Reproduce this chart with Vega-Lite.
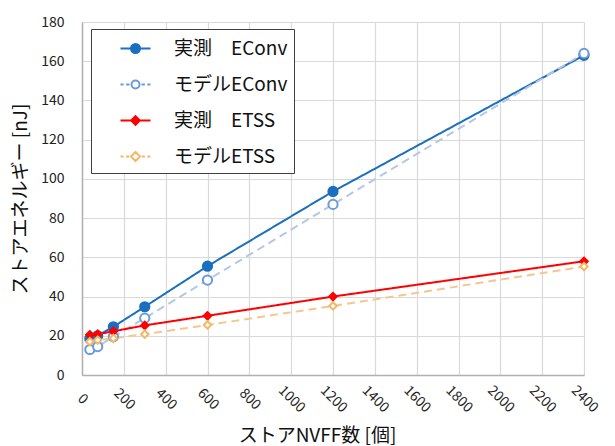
{
  "$schema": "https://vega.github.io/schema/vega-lite/v6.json",
  "width": 502,
  "height": 353,
  "autosize": "none",
  "padding": {"left": 82, "top": 22, "right": 31, "bottom": 71},
  "background": "white",
  "config": {
    "font": "Noto Sans CJK JP",
    "view": {"stroke": null},
    "legend": {
      "orient": "none",
      "legendX": 9,
      "legendY": 7,
      "padding": 6,
      "fillColor": "white",
      "strokeColor": "#404040",
      "labelFont": "Noto Sans CJK JP",
      "labelFontSize": 19,
      "labelColor": "#111111",
      "symbolSize": 625,
      "symbolStrokeWidth": 2,
      "symbolOffset": 25,
      "labelOffset": 25,
      "rowPadding": 12,
      "symbolOpacity": 1
    }
  },
  "data": {
    "values": [
      {"n": 37.5, "v": 18.5, "s": "実測　EConv"},
      {"n": 75, "v": 20, "s": "実測　EConv"},
      {"n": 150, "v": 24.6, "s": "実測　EConv"},
      {"n": 300, "v": 34.8, "s": "実測　EConv"},
      {"n": 600, "v": 55.5, "s": "実測　EConv"},
      {"n": 1200, "v": 93.6, "s": "実測　EConv"},
      {"n": 2400, "v": 163, "s": "実測　EConv"},
      {"n": 37.5, "v": 13, "s": "モデルEConv"},
      {"n": 75, "v": 14.5, "s": "モデルEConv"},
      {"n": 150, "v": 19.5, "s": "モデルEConv"},
      {"n": 300, "v": 29, "s": "モデルEConv"},
      {"n": 600, "v": 48.4, "s": "モデルEConv"},
      {"n": 1200, "v": 87, "s": "モデルEConv"},
      {"n": 2400, "v": 164, "s": "モデルEConv"},
      {"n": 37.5, "v": 20.5, "s": "実測　ETSS"},
      {"n": 75, "v": 20.8, "s": "実測　ETSS"},
      {"n": 150, "v": 22.3, "s": "実測　ETSS"},
      {"n": 300, "v": 25.3, "s": "実測　ETSS"},
      {"n": 600, "v": 30.2, "s": "実測　ETSS"},
      {"n": 1200, "v": 40, "s": "実測　ETSS"},
      {"n": 2400, "v": 58, "s": "実測　ETSS"},
      {"n": 37.5, "v": 17, "s": "モデルETSS"},
      {"n": 75, "v": 17.8, "s": "モデルETSS"},
      {"n": 150, "v": 18.7, "s": "モデルETSS"},
      {"n": 300, "v": 20.8, "s": "モデルETSS"},
      {"n": 600, "v": 25.5, "s": "モデルETSS"},
      {"n": 1200, "v": 35.2, "s": "モデルETSS"},
      {"n": 2400, "v": 55.3, "s": "モデルETSS"}
    ]
  },
  "encoding": {
    "x": {
      "field": "n",
      "type": "quantitative",
      "scale": {"domain": [0, 2400], "nice": false, "zero": true},
      "axis": {
        "values": [0, 200, 400, 600, 800, 1000, 1200, 1400, 1600, 1800, 2000, 2200, 2400],
        "format": "d",
        "title": "ストアNVFF数 [個]",
        "titleFont": "Noto Sans CJK JP",
        "titleFontSize": 19,
        "titleFontWeight": "normal",
        "titleColor": "#111111",
        "titlePadding": 12,
        "titleX": 235,
        "labelAngle": 45,
        "labelAlign": "center",
        "labelBaseline": "middle",
        "labelPadding": 24,
        "labelFontSize": 14,
        "labelColor": "#222222",
        "labelFont": "Noto Sans CJK JP",
        "ticks": false,
        "grid": true,
        "gridColor": "#d9d9d9",
        "gridWidth": 1.2,
        "domainColor": "#b0b0b0",
        "domainWidth": 1.5
      }
    },
    "y": {
      "field": "v",
      "type": "quantitative",
      "scale": {"domain": [0, 180], "nice": false},
      "axis": {
        "values": [0, 20, 40, 60, 80, 100, 120, 140, 160, 180],
        "title": "ストアエネルギー [nJ]",
        "titleFont": "Noto Sans CJK JP",
        "titleFontSize": 19,
        "titleFontWeight": "normal",
        "titleColor": "#111111",
        "titlePadding": 10,
        "labelFontSize": 14,
        "labelColor": "#222222",
        "labelFont": "Noto Sans CJK JP",
        "labelPadding": 18,
        "ticks": false,
        "grid": true,
        "gridColor": "#d9d9d9",
        "gridWidth": 1.2,
        "domainColor": "#b0b0b0",
        "domainWidth": 1.5
      }
    }
  },
  "layer": [
    {
      "mark": {"type": "line", "strokeWidth": 2},
      "encoding": {
        "color": {
          "field": "s",
          "type": "nominal",
          "scale": {
            "domain": ["実測　ETSS", "モデルETSS", "実測　EConv", "モデルEConv"],
            "range": ["#ff0000", "#f5c68f", "#1a6fbf", "#b4c7e7"]
          },
          "legend": null
        },
        "strokeDash": {
          "field": "s",
          "type": "nominal",
          "scale": {
            "domain": ["実測　ETSS", "モデルETSS", "実測　EConv", "モデルEConv"],
            "range": [[1, 0], [8, 5], [1, 0], [8, 5]]
          },
          "legend": null
        }
      }
    },
    {
      "transform": [{"filter": "indexof(datum.s, 'Conv') >= 0"}],
      "mark": {"type": "point", "shape": "circle", "size": 85, "strokeWidth": 2, "opacity": 1, "fillOpacity": 1},
      "encoding": {
        "stroke": {
          "field": "s",
          "type": "nominal",
          "scale": {
            "domain": ["実測　EConv", "モデルEConv", "実測　ETSS", "モデルETSS"],
            "range": ["#1a6fbf", "#6a9bd8", "#ff0000", "#f2b866"]
          }
        },
        "fill": {
          "field": "s",
          "type": "nominal",
          "scale": {
            "domain": ["実測　EConv", "モデルEConv", "実測　ETSS", "モデルETSS"],
            "range": ["#1a6fbf", "#ffffff", "#ff0000", "#ffffff"]
          }
        }
      }
    },
    {
      "transform": [{"filter": "indexof(datum.s, 'TSS') >= 0"}],
      "mark": {"type": "point", "shape": "diamond", "size": 55, "strokeWidth": 2, "opacity": 1, "fillOpacity": 1},
      "encoding": {
        "stroke": {"field": "s", "type": "nominal"},
        "fill": {"field": "s", "type": "nominal"}
      }
    },
    {
      "mark": {"type": "point", "opacity": 0, "strokeWidth": 2},
      "encoding": {
        "stroke": {"field": "s", "type": "nominal", "legend": {"title": null, "symbolOpacity": 1}},
        "fill": {"field": "s", "type": "nominal", "legend": {"title": null, "symbolOpacity": 1}},
        "shape": {
          "field": "s",
          "type": "nominal",
          "scale": {
            "domain": ["実測　EConv", "モデルEConv", "実測　ETSS", "モデルETSS"],
            "range": [
              "M-1.2,0H1.2M-0.36,0A0.36,0.36 0 1,0 0.36,0A0.36,0.36 0 1,0 -0.36,0Z",
              "M-1.2,0H-0.95M-0.75,0H-0.48M0.48,0H0.75M0.95,0H1.2M-0.32,0A0.32,0.32 0 1,0 0.32,0A0.32,0.32 0 1,0 -0.32,0Z",
              "M-1.2,0H1.2M0,-0.34L0.34,0L0,0.34L-0.34,0Z",
              "M-1.2,0H-0.95M-0.75,0H-0.5M0.5,0H0.75M0.95,0H1.2M0,-0.36L0.36,0L0,0.36L-0.36,0Z"
            ]
          },
          "legend": {"title": null, "symbolOpacity": 1}
        }
      }
    }
  ]
}
